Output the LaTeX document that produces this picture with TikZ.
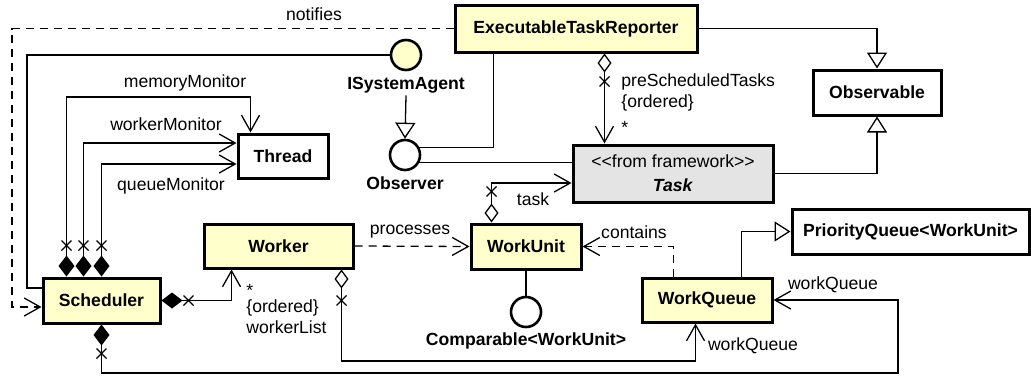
\documentclass[tikz,border=0pt]{standalone}
\usepackage{fontspec}
\setmainfont{Liberation Sans}
\usetikzlibrary{arrows.meta,calc,shadows}
\definecolor{classyellow}{HTML}{FFFFCC}
\definecolor{classgray}{HTML}{E4E4E4}

\tikzset{
  xmark/.pic={\draw[line width=0.65pt] (-5,-5) -- (5,5) (-5,5) -- (5,-5);},
}

\begin{document}
\begin{tikzpicture}[x=0.5pt,y=-0.5pt,
  every node/.style={font=\fontsize{8.8}{12}\selectfont, inner sep=1pt},
  cls/.style={draw, line width=1.5pt, inner sep=0pt, align=center,
    font=\fontsize{8.8}{12}\selectfont\bfseries,
    drop shadow={shadow xshift=0.7pt, shadow yshift=-0.7pt, fill=black!30}},
  lolli/.style={circle, draw, line width=1.3pt, minimum size=15pt, inner sep=0pt},
  iname/.style={font=\fontsize{8.8}{12}\selectfont\bfseries},
  con/.style={line width=0.65pt},
  dep/.style={con, dash pattern=on 4pt off 3pt, -{Straight Barb[length=8pt,width=9pt]}},
  gen/.style={con, -{Triangle[length=8pt,width=10pt,fill=white]}},
  comp/.style={con, {Diamond[length=10.5pt,width=8pt]}-{Straight Barb[length=8pt,width=9pt]}},
  agg/.style={con, {Diamond[length=9.5pt,width=7pt,fill=white]}-{Straight Barb[length=8pt,width=9pt]}},
]
\fill[white] (0,0) rectangle (1031,375);
\useasboundingbox (0,0) rectangle (1031,375);

% classes
\node[cls, fill=classyellow, minimum width=121pt, minimum height=23.5pt] (etr) at (576,28.5) {ExecutableTaskReporter};
\node[cls, fill=white, minimum width=64pt, minimum height=22.5pt] (obsv) at (877,92.5) {Observable};
\node[cls, fill=white, minimum width=45pt, minimum height=22pt] (thread) at (283,156) {Thread};
\node[cls, fill=classgray, minimum width=100pt, minimum height=28.5pt,
      font=\fontsize{8.8}{12}\selectfont] (task) at (673,173.5)
      {<\kern0pt<from framework>\kern0pt>\\\textbf{\textit{Task}}};
\node[cls, fill=classyellow, minimum width=74.5pt, minimum height=22pt] (worker) at (278.5,246) {Worker};
\node[cls, fill=classyellow, minimum width=55pt, minimum height=22.5pt] (workunit) at (526,246.5) {WorkUnit};
\node[cls, fill=white, minimum width=118.5pt, minimum height=22.5pt] (pq) at (910.5,231.5) {PriorityQueue<WorkUnit>};
\node[cls, fill=classyellow, minimum width=58.5pt, minimum height=22.5pt] (sched) at (101.5,300.5) {Scheduler};
\node[cls, fill=classyellow, minimum width=65pt, minimum height=22pt] (wq) at (707,300) {WorkQueue};

% interfaces (lollipops)
\node[lolli, fill=classyellow] (isa) at (406,55) {};
\node[iname] (isaL) at (406,85) {ISystemAgent};
\node[lolli, fill=white] (obs) at (405,155) {};
\node[iname] (obsL) at (405,183) {Observer};
\node[lolli, fill=white] (cmp) at (526,312) {};
\node[iname] (cmpL) at (526,341) {Comparable<WorkUnit>};

% Scheduler -> Thread monitors
\draw[comp] ($(sched.north west)+(25,0)$) |- (150,97) -| ($(thread.north west)+(14,0)$);
\draw[comp] ($(sched.north west)+(42,0)$) |- ($(thread.west)+(0,-13)$);
\draw[comp] ($(sched.north west)+(60,0)$) |- ($(thread.west)+(0,8)$);
\pic at ($(sched.north west)+(25,-31)$) {xmark};
\pic at ($(sched.north west)+(42,-31)$) {xmark};
\pic at ($(sched.north west)+(60,-31)$) {xmark};
\node (lmem) at (185,83) {memoryMonitor};
\node (lwork) at (166,124) {workerMonitor};
\node (lqueue) at (171,186) {queueMonitor};

% notifies
\draw[dep] (etr.west) -- (12,28.5) |- ($(sched.west)+(0,6.5)$);
\node (lnotify) at (314,14) {notifies};

% Scheduler realises ISystemAgent
\draw[con] ($(sched.west)+(0,-12.5)$) -| (27,55) -- (isa);

% ISystemAgent extends Observer
\draw[gen] (isaL.south) -- (obs.north);

% ExecutableTaskReporter realises Observer, Task realises Observer
\draw[con] ($(etr.south west)+(40,0)$) |- (obs.28);
\draw[con] (obs.-28) -- (obs.-28 -| task.west);

% preScheduledTasks
\draw[agg] ($(etr.south west)+(151,0)$) -- ($(task.north west)+(33,0)$);
\pic at ($(etr.south west)+(151,28)$) {xmark};
\node[anchor=west] (lpre) at (619,82) {preScheduledTasks};
\node[anchor=west] (lpreord) at (619,103) {\{ordered\}};
\node[anchor=west] (lpremul) at (619,127) {*};

% generalisations to Observable
\draw[gen] (etr.east) -| (obsv.north);
\draw[gen] (task.east) -| (obsv.south);

% WorkUnit -> Task
\draw[agg] ($(workunit.north west)+(22,0)$) |- ($(task.west)+(0,9.5)$);
\pic at ($(workunit.north west)+(22,-31)$) {xmark};
\node (ltask) at (533,199) {task};

% processes / contains
\draw[dep] (worker.east) -- (workunit.west);
\node (lproc) at (410,232) {processes};
\draw[dep] ($(wq.north west)+(33,0)$) |- (workunit.east);
\node (lcont) at (634,232) {contains};

% Comparable lollipop
\draw[con] (workunit.south) -- (cmp.north);

% WorkQueue extends PriorityQueue
\draw[gen] ($(wq.north west)+(101,0)$) |- (pq.west);

% Scheduler -> WorkQueue
\draw[comp] (sched.south) |- (898,373) |- (wq.east);
\pic at ($(sched.south)+(0,29)$) {xmark};
\node (lwq1) at (833,285) {workQueue};

% Worker -> WorkQueue
\draw[agg] ($(worker.south west)+(139,0)$) |- (500,361) -| ($(wq.south west)+(55,0)$);
\pic at ($(worker.south west)+(139,31)$) {xmark};
\node (lwq2) at (753,346) {workQueue};

% Scheduler -> Worker
\draw[comp] (sched.east) -| ($(worker.south west)+(29,0)$);
\pic at ($(sched.east)+(27,0)$) {xmark};
\node[anchor=west] (lwlmul) at (244,290) {*};
\node[anchor=west] (lwlord) at (244,308) {\{ordered\}};
\node[anchor=west] (lwl) at (244,327) {workerList};
\end{tikzpicture}
\end{document}
